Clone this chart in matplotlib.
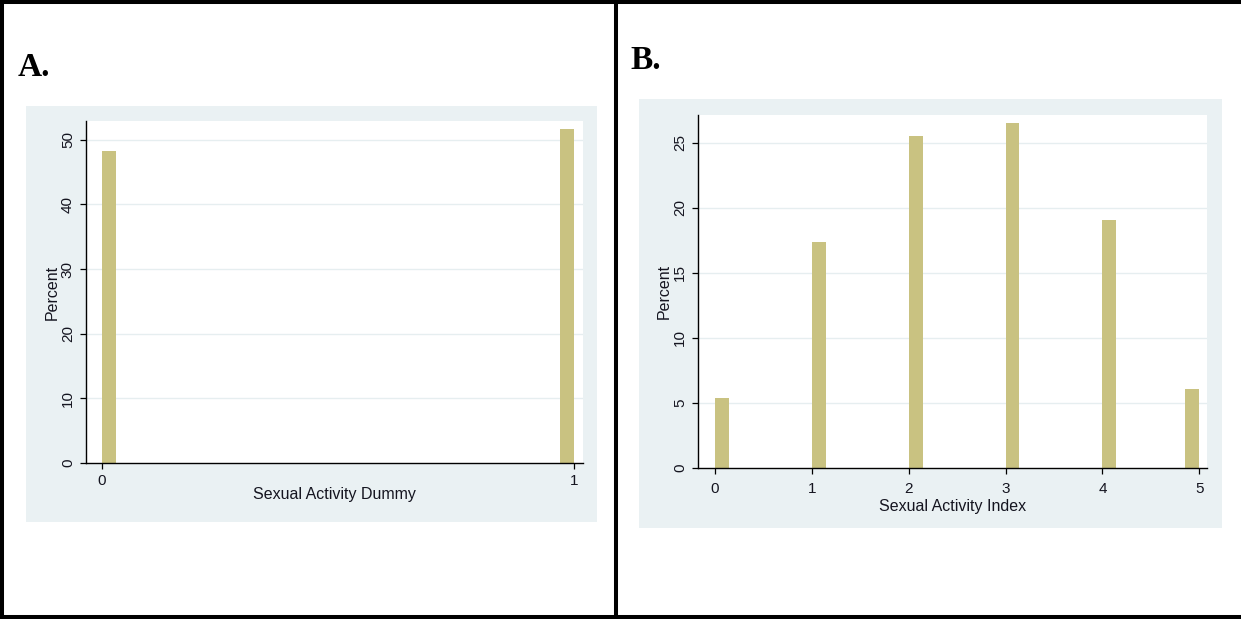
import numpy as np
import matplotlib
matplotlib.use('Agg')
import matplotlib.pyplot as plt
from matplotlib.patches import Rectangle
from matplotlib.lines import Line2D

plt.rcParams['font.family'] = ['Liberation Sans', 'DejaVu Sans']

W, H = 1241, 619

# data (percent of respondents)
dummy_vals = [0, 1]
dummy_pct = [48.3, 51.7]
index_vals = [0, 1, 2, 3, 4, 5]
index_pct = [5.4, 17.4, 25.5, 26.5, 19.1, 6.1]

bar_color = '#c9c281'
bg_color = '#eaf1f3'
grid_color = '#e6eef0'
txt = '#151520'


def box(x0, y0, x1, y1):
    # pixel box (top-left origin) -> figure fraction rect
    return [x0 / W, 1 - y1 / H, (x1 - x0) / W, (y1 - y0) / H]


def hist_panel(ax, vals, pct, width, yticks, ylim, xlim, xlabel, xpad, xlabpad):
    vals = np.array(vals, dtype=float)
    left = np.minimum(vals, vals.max() - width)
    ax.bar(left, pct, width=width, align='edge', color=bar_color,
           edgecolor='none', zorder=2)
    ax.set_xlim(*xlim)
    ax.set_ylim(*ylim)
    ax.set_yticks(yticks)
    ax.set_xticks(vals)
    ax.set_xticklabels([str(int(v)) for v in vals])
    ax.set_yticklabels([str(t) for t in yticks], rotation=90, va='center')
    for t in yticks[1:]:
        ax.axhline(t, color=grid_color, lw=1.0, zorder=1)
    for s in ['top', 'right']:
        ax.spines[s].set_visible(False)
    for s in ['left', 'bottom']:
        ax.spines[s].set_linewidth(1.0)
        ax.spines[s].set_color('black')
    ax.tick_params(direction='out', length=4, width=0.9, labelsize=11,
                   labelcolor=txt, pad=4)
    ax.tick_params(axis='x', pad=xpad)
    ax.set_ylabel('Percent', fontsize=11.5, color=txt, labelpad=1)
    ax.set_xlabel(xlabel, fontsize=11.5, color=txt, labelpad=xlabpad)
    ax.set_facecolor('white')


fig = plt.figure(figsize=(W / 100, H / 100), dpi=100)

# light panel backgrounds (behind the axes)
for b in [box(26, 106, 597, 522), box(639, 99, 1222, 528)]:
    fig.patches.append(Rectangle((b[0], b[1]), b[2], b[3], transform=fig.transFigure,
                                 facecolor=bg_color, edgecolor='none', zorder=-10))

axA = fig.add_axes(box(86, 121, 583, 463))
hist_panel(axA, dummy_vals, dummy_pct, 0.03, [0, 10, 20, 30, 40, 50],
           (0, 52.9), (-0.034, 1.019), 'Sexual Activity Dummy', 4, -1)

axB = fig.add_axes(box(698, 115, 1207, 468))
hist_panel(axB, index_vals, index_pct, 0.143, [0, 5, 10, 15, 20, 25],
           (0, 27.15), (-0.176, 5.08), 'Sexual Activity Index', 6, 2)

# panel letters
fig.text(18 / W, 1 - 76 / H, 'A.', fontsize=24, fontweight='bold',
         family='Liberation Serif', va='baseline')
fig.text(630 / W, 1 - 69 / H, 'B.', fontsize=24, fontweight='bold',
         family='Liberation Serif', va='baseline')

# table frame lines
lw = 2.9
fig.add_artist(Line2D([1.5 / W, 1.5 / W], [0, 1], color='black', lw=lw))
fig.add_artist(Line2D([0, 1], [1 - 1.5 / H, 1 - 1.5 / H], color='black', lw=lw))
fig.add_artist(Line2D([0, 1], [1 - 616.5 / H, 1 - 616.5 / H], color='black', lw=lw))
fig.add_artist(Line2D([615.5 / W, 615.5 / W], [0, 1], color='black', lw=lw))

fig.savefig('out.png', dpi=100, facecolor='white')
